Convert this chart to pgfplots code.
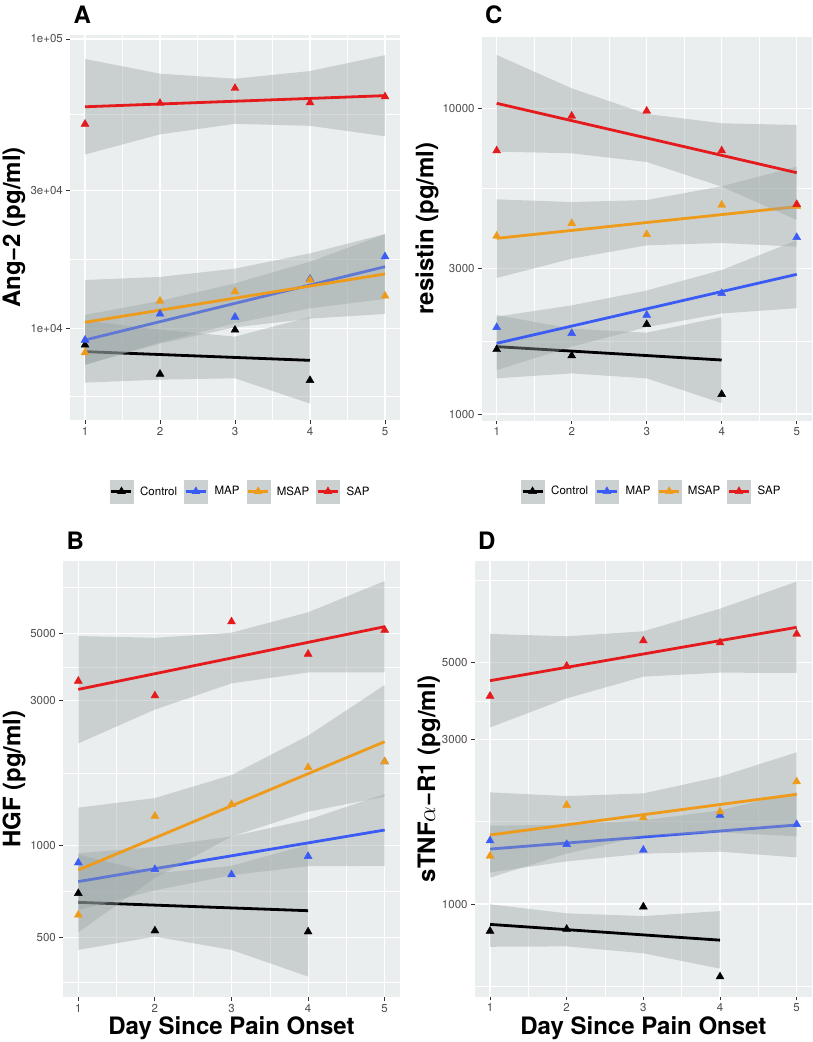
\documentclass[border=0pt]{standalone}
\usepackage{fontspec}
\setmainfont{TeX Gyre Heros}
\usepackage{pgfplots}
\pgfplotsset{compat=1.18}

\definecolor{panelbg}{HTML}{EBEEEE}
\definecolor{bandgray}{HTML}{99A3A3}
\definecolor{keyfill}{HTML}{CBD0D0}
\definecolor{ticktext}{HTML}{4D4D4D}
\definecolor{tickmark}{HTML}{333333}
\definecolor{cCtl}{HTML}{000000}
\definecolor{cMAP}{HTML}{3B5BF5}
\definecolor{cMSAP}{HTML}{EE9A1A}
\definecolor{cSAP}{HTML}{E41A1C}

% confidence ribbon: upper edge left to right, then lower edge right to left
\newcommand{\band}[1]{%
  \addplot[fill=bandgray, fill opacity=0.4, draw=none, forget plot] coordinates {#1} -- cycle;
}

\pgfplotsset{
  every axis/.append style={
    scale only axis,
    xmin=0.8, xmax=5.2,
    xtick={1,2,3,4,5}, xticklabels={1,2,3,4,5},
    minor xtick={1.5,2.5,3.5,4.5},
    grid=both,
    major grid style={white, line width=1.1pt},
    minor grid style={white, line width=0.55pt},
    axis background/.style={fill=panelbg},
    axis line style={draw=none},
    tick align=outside, tick pos=left,
    major tick length=3.6pt, minor tick length=0pt,
    tick style={tickmark, line width=0.9pt},
    tick label style={font=\fontsize{11.5}{13}\selectfont, text=ticktext},
    label style={font=\bfseries\fontsize{24}{28}\selectfont},
    title style={font=\bfseries\fontsize{24}{28}\selectfont},
  },
  every axis title/.style={at={(axis description cs:0,1)}, anchor=base west, yshift=11.6pt},
  every axis x label/.style={at={(axis description cs:0.5,-0.0863)}, anchor=base},
  fitline/.style={line width=2.8pt, forget plot},
  tri/.style={only marks, mark=triangle*, mark size=4.6pt, forget plot},
  legkeys/.style={
    legend columns=4,
    legend image code/.code={
      \fill[keyfill] (0pt,-11.5pt) rectangle (23pt,11.5pt);
      \draw[##1, line width=2.8pt] (1.5pt,0pt) -- (21.5pt,0pt);
      \draw[##1, mark=triangle*, mark size=4.6pt] plot coordinates {(11.5pt,0pt)};
    },
    legend style={draw=none, fill=none, inner sep=0pt, column sep=7pt,
      nodes={inner sep=0pt, font=\fontsize{11.5}{13}\selectfont},
      /tikz/every even column/.append style={column sep=7pt}},
  },
}

\begin{document}
\begin{tikzpicture}
\useasboundingbox (0,0) rectangle (812pt,-1042pt);

% ---------------- A ----------------
\begin{axis}[ymode=log, legkeys,
  at={(70pt,-420pt)}, anchor=south west, width=330pt, height=385pt,
  ymin=4820, ymax=103230,
  ytick={10000,30000,100000}, yticklabels={1e+04,3e+04,1e+05},
  minor ytick={5801,17321,54772},
  ylabel={Ang−2 (pg/ml)},
  ylabel style={at={(axis description cs:-0.170,0.5)}, anchor=center},
  title={A},
  legend style={at={(0.514,-0.1857)}, anchor=center},
]
\band{(1,10630) (2,9894) (3,9359) (4,10940) (4,5492) (3,6718) (2,6646) (1,6490)}
\addplot[fitline, cCtl] coordinates {(1,8306) (4,7750)};
\band{(1,11120) (2,12430) (3,14310) (4,17000) (5,21130) (5,12630) (4,11730) (3,10410) (2,8946) (1,7470)}
\addplot[fitline, cMAP] coordinates {(1,9110) (5,16330)};
\band{(1,14690) (2,15050) (3,16080) (4,18160) (5,21180) (5,11210) (4,10800) (3,10080) (2,8850) (1,7490)}
\addplot[fitline, cMSAP] coordinates {(1,10490) (5,15410)};
\band{(1,85300) (2,75900) (3,72900) (4,77500) (5,87900) (5,46100) (4,50100) (3,50900) (2,46800) (1,39900)}
\addplot[fitline, cSAP] coordinates {(1,58300) (5,63700)};
\addplot[tri, cCtl] coordinates {(1,8760) (2,6950) (3,9870) (4,6610)};
\addplot[tri, cMAP] coordinates {(1,9110) (2,11210) (3,10940) (4,14810) (5,17690)};
\addplot[tri, cMSAP] coordinates {(1,8240) (2,12430) (3,13390) (4,14690) (5,12940)};
\addplot[tri, cSAP] coordinates {(1,50800) (2,60000) (3,67600) (4,60300) (5,63200)};
\addlegendimage{cCtl}\addlegendentry{Control}
\addlegendimage{cMAP}\addlegendentry{MAP}
\addlegendimage{cMSAP}\addlegendentry{MSAP}
\addlegendimage{cSAP}\addlegendentry{SAP}
\end{axis}

% ---------------- C ----------------
\begin{axis}[ymode=log, legkeys,
  at={(481.7pt,-420.7pt)}, anchor=south west, width=330pt, height=384pt,
  ymin=951, ymax=17145,
  ytick={1000,3000,10000}, yticklabels={1000,3000,10000},
  minor ytick={1732,5477},
  ylabel={resistin (pg/ml)},
  ylabel style={at={(axis description cs:-0.1658,0.5)}, anchor=center},
  title={C},
  title style={yshift=1.6pt},
  legend style={at={(0.512,-0.184)}, anchor=center},
]
\band{(1,2108) (2,1901) (3,1846) (4,2076) (4,1086) (3,1308) (2,1358) (1,1308)}
\addplot[fitline, cCtl] coordinates {(1,1661) (4,1502)};
\band{(1,2082) (2,2267) (3,2535) (4,2958) (5,3699) (5,2219) (4,2132) (3,1924) (2,1661) (1,1393)}
\addplot[fitline, cMAP] coordinates {(1,1703) (5,2863)};
\band{(1,5036) (2,4937) (3,5012) (4,5555) (5,6444) (5,3527) (4,3626) (3,3562) (2,3222) (1,2786)}
\addplot[fitline, cMSAP] coordinates {(1,3755) (5,4766)};
\band{(1,14940) (2,11620) (3,9580) (4,8930) (5,8820) (5,4311) (4,5543) (3,6673) (2,7124) (1,7215)}
\addplot[fitline, cSAP] coordinates {(1,10380) (5,6157)};
\addplot[tri, cCtl] coordinates {(1,1627) (2,1552) (3,1965) (4,1160)};
\addplot[tri, cMAP] coordinates {(1,1921) (2,1836) (3,2108) (4,2481) (5,3783)};
\addplot[tri, cMSAP] coordinates {(1,3822) (2,4204) (3,3869) (4,4827) (5,4790)};
\addplot[tri, cSAP] coordinates {(1,7268) (2,9437) (3,9799) (4,7268) (5,4853)};
\addlegendimage{cCtl}\addlegendentry{Control}
\addlegendimage{cMAP}\addlegendentry{MAP}
\addlegendimage{cMSAP}\addlegendentry{MSAP}
\addlegendimage{cSAP}\addlegendentry{SAP}
\end{axis}

% ---------------- B ----------------
\begin{axis}[ymode=log,
  at={(63pt,-997.3pt)}, anchor=south west, width=337pt, height=436.6pt,
  ymin=317, ymax=8667,
  ytick={500,1000,3000,5000}, yticklabels={500,1000,3000,5000},
  minor ytick={355,707,1732,3873,7071},
  ylabel={HGF (pg/ml)},
  ylabel style={at={(axis description cs:-0.1454,0.5)}, anchor=center},
  xlabel={Day Since Pain Onset},
  title={B},
]
\band{(1,934) (2,811) (3,858) (4,1008) (4,371) (3,454) (2,502) (1,454)}
\addplot[fitline, cCtl] coordinates {(1,651) (4,611)};
\band{(1,944) (2,990) (3,1072) (4,1218) (5,1479) (5,858) (4,856) (3,800) (2,713) (1,614)}
\addplot[fitline, cMAP] coordinates {(1,762) (5,1126)};
\band{(1,1334) (2,1435) (3,1708) (4,2302) (5,3380) (5,1450) (4,1294) (3,1071) (2,783) (1,519)}
\addplot[fitline, cMSAP] coordinates {(1,832) (5,2199)};
\band{(1,4898) (2,4832) (3,5022) (4,5862) (5,7430) (5,3718) (4,3716) (3,3421) (2,2805) (1,2171)}
\addplot[fitline, cSAP] coordinates {(1,3269) (5,5257)};
\addplot[tri, cCtl] coordinates {(1,697) (2,525) (4,521)};
\addplot[tri, cMAP] coordinates {(1,879) (2,836) (3,803) (4,923) (5,1890)};
\addplot[tri, cMSAP] coordinates {(1,592) (2,1252) (3,1368) (4,1811) (5,1890)};
\addplot[tri, cSAP] coordinates {(1,3483) (2,3117) (3,5461) (4,4273) (5,5125)};
\end{axis}

% ---------------- D ----------------
\begin{axis}[ymode=log,
  at={(474.7pt,-996.7pt)}, anchor=south west, width=337.3pt, height=436pt,
  ymin=539, ymax=9874,
  ytick={1000,3000,5000}, yticklabels={1000,3000,5000},
  minor ytick={576,1732,3873,8643},
  ylabel={sTNF$\alpha$−R1 (pg/ml)},
  ylabel style={at={(axis description cs:-0.1355,0.5)}, anchor=center},
  xlabel={Day Since Pain Onset},
  title={D},
]
\band{(1,998) (2,940) (3,923) (4,954) (4,650) (3,720) (2,754) (1,752)}
\addplot[fitline, cCtl] coordinates {(1,873) (4,786)};
\band{(1,1686) (2,1697) (3,1747) (4,1868) (5,2106) (5,1365) (4,1418) (3,1399) (2,1329) (1,1235)}
\addplot[fitline, cMAP] coordinates {(1,1443) (5,1694)};
\band{(1,2106) (2,2055) (3,2092) (4,2338) (5,2750) (5,1570) (4,1613) (3,1574) (2,1399) (1,1192)}
\addplot[fitline, cMSAP] coordinates {(1,1585) (5,2078)};
\band{(1,6056) (2,5964) (3,6166) (4,7171) (5,8586) (5,4669) (4,4680) (3,4556) (2,3943) (1,3249)}
\addplot[fitline, cSAP] coordinates {(1,4436) (5,6332)};
\addplot[tri, cCtl] coordinates {(1,835) (2,846) (3,982) (4,616)};
\addplot[tri, cMAP] coordinates {(1,1526) (2,1489) (3,1434) (4,1810) (5,1701)};
\addplot[tri, cMSAP] coordinates {(1,1378) (2,1935) (3,1779) (4,1852) (5,2262)};
\addplot[tri, cSAP] coordinates {(1,4004) (2,4891) (3,5792) (4,5715) (5,6056)};
\end{axis}
\end{tikzpicture}
\end{document}
